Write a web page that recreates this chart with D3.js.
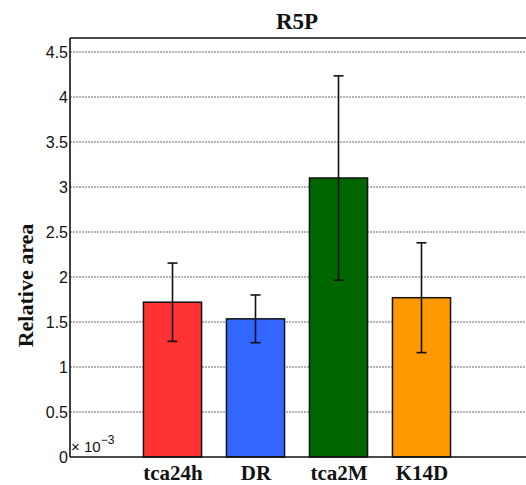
<!DOCTYPE html>
<html>
<head>
<meta charset="utf-8">
<script src="https://cdn.jsdelivr.net/npm/d3@7/dist/d3.min.js"></script>
<style>
  html, body { margin: 0; padding: 0; background: #fff; }
  svg { display: block; }
  .serif { font-family: "Liberation Serif", "Times New Roman", serif; font-weight: bold; }
  .sans { font-family: "Liberation Sans", Arial, sans-serif; }
</style>
</head>
<body>
<svg id="chart" width="526" height="485"></svg>
<script>
// R5P relative area per strain (values in units of 1e-3)
const categories = ["tca24h", "DR", "tca2M", "K14D"];
const means = [1.72, 1.535, 3.10, 1.77];
const errors = [0.435, 0.265, 1.135, 0.61];
const colors = ["#FF3333", "#3366FF", "#006600", "#FF9900"];
const yTicks = [0, 0.5, 1, 1.5, 2, 2.5, 3, 3.5, 4, 4.5];
const yTickLabels = ["0", "0.5", "1", "1.5", "2", "2.5", "3", "3.5", "4", "4.5"];

const svg = d3.select("#chart");
const plotL = 70, plotR = 524, plotT = 38, plotB = 457;

const x = d3.scaleLinear().domain([-0.235, 5.235]).range([plotL, plotR]);
const y = d3.scaleLinear().domain([0, (plotB - plotT) / 90]).range([plotB, plotT]);
const barW = x(0.7) - x(0);

// dotted grid lines
svg.append("g")
  .selectAll("line")
  .data(yTicks.filter(d => d > 0))
  .join("line")
  .attr("x1", plotL).attr("x2", 526)
  .attr("y1", d => y(d)).attr("y2", d => y(d))
  .attr("stroke", "#666")
  .attr("stroke-width", 1)
  .attr("stroke-dasharray", "2,1");

// bars
svg.append("g")
  .selectAll("rect")
  .data(means)
  .join("rect")
  .attr("x", (d, i) => x(i + 1) - barW / 2)
  .attr("width", barW)
  .attr("y", d => y(d))
  .attr("height", d => y(0) - y(d))
  .attr("fill", (d, i) => colors[i])
  .attr("stroke", "#111")
  .attr("stroke-width", 1.5);

// error bars
const eb = svg.append("g").attr("stroke", "#111").attr("stroke-width", 1.6);
means.forEach((m, i) => {
  const cx = x(i + 1);
  const lo = y(m - errors[i]), hi = y(m + errors[i]);
  eb.append("line").attr("x1", cx).attr("x2", cx).attr("y1", lo).attr("y2", hi);
  eb.append("line").attr("x1", cx - 5).attr("x2", cx + 5).attr("y1", lo).attr("y2", lo);
  eb.append("line").attr("x1", cx - 5).attr("x2", cx + 5).attr("y1", hi).attr("y2", hi);
});

// axes frame: left, bottom, top
const frame = svg.append("g").attr("stroke", "#111").attr("stroke-width", 1.6).attr("fill", "none");
frame.append("line").attr("x1", plotL).attr("x2", plotL).attr("y1", plotT).attr("y2", plotB);
frame.append("line").attr("x1", plotL).attr("x2", 526).attr("y1", plotB).attr("y2", plotB);
frame.append("line").attr("x1", plotL).attr("x2", 526).attr("y1", plotT).attr("y2", plotT);

// y tick labels
const yAxis = d3.axisLeft(y)
  .tickValues(yTicks)
  .tickFormat((d, i) => yTickLabels[i])
  .tickSize(0)
  .tickPadding(2);
const ya = svg.append("g").attr("transform", `translate(${plotL},0)`).call(yAxis)
  .attr("font-family", null).attr("font-size", null);
ya.select(".domain").remove();
ya.selectAll("text")
  .attr("class", "sans")
  .style("font-size", "16px")
  .attr("fill", "#111");

// x category labels
const xAxis = d3.axisBottom(x)
  .tickValues([1, 2, 3, 4])
  .tickFormat((d, i) => categories[i])
  .tickSize(0)
  .tickPadding(8);
const xa = svg.append("g").attr("transform", `translate(0,${plotB})`).call(xAxis)
  .attr("font-family", null).attr("font-size", null);
xa.select(".domain").remove();
xa.selectAll("text")
  .attr("class", "serif")
  .style("font-size", "21px")
  .attr("fill", "#111");

// exponent note
const ex = svg.append("text")
  .attr("class", "sans")
  .attr("x", 71).attr("y", 452)
  .style("font-size", "15px")
  .attr("fill", "#111");
ex.append("tspan").text("× 10");
ex.append("tspan").attr("dy", -8).style("font-size", "12px").text("−3");

// title
svg.append("text")
  .attr("class", "serif")
  .attr("x", (plotL + plotR) / 2).attr("y", 29)
  .attr("text-anchor", "middle")
  .style("font-size", "23px")
  .attr("fill", "#111")
  .text("R5P");

// y axis label
svg.append("text")
  .attr("class", "serif")
  .attr("transform", `translate(33,${(plotT + plotB) / 2 + 38}) rotate(-90)`)
  .attr("text-anchor", "middle")
  .style("font-size", "22px")
  .attr("fill", "#111")
  .text("Relative area");
</script>
</body>
</html>
